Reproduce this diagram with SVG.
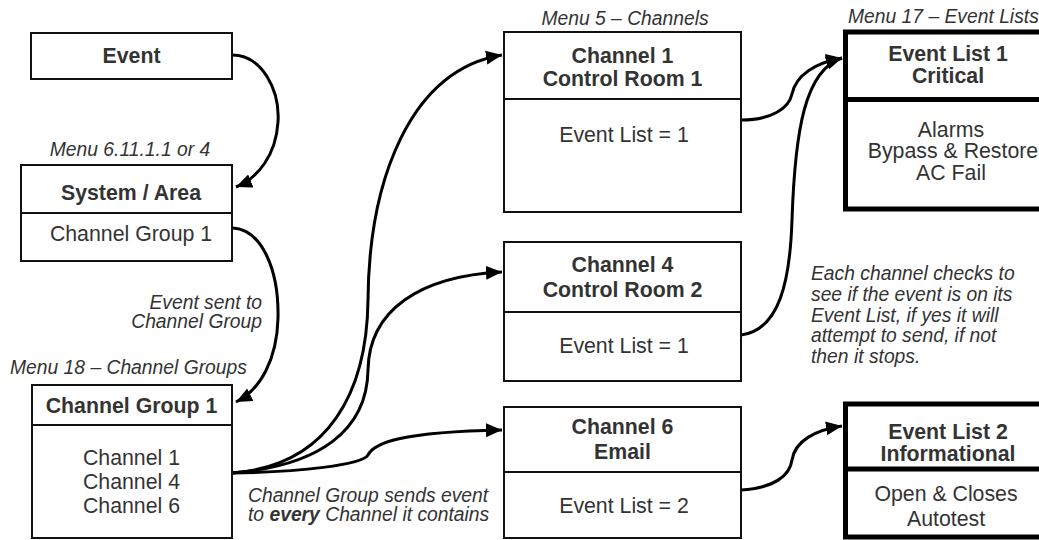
<svg xmlns="http://www.w3.org/2000/svg" width="1039" height="540" viewBox="0 0 1039 540">
<defs>
<style>
.box{fill:#fff;stroke:#111;stroke-width:2}
.thick{fill:#fff;stroke:#000;stroke-width:5}
.div{stroke:#111;stroke-width:2}
.divt{stroke:#000;stroke-width:5}
.b{font-family:"Liberation Sans",Arial,sans-serif;font-weight:bold;font-size:21.3px;fill:#333;text-anchor:middle}
.r{font-family:"Liberation Sans",Arial,sans-serif;font-size:21.3px;fill:#333;text-anchor:middle}
.i{font-family:"Liberation Sans",Arial,sans-serif;font-style:italic;font-size:19.3px;fill:#333}
.c{fill:none;stroke:#000;stroke-width:3;marker-end:url(#ah)}
</style>
<marker id="ah" markerUnits="userSpaceOnUse" markerWidth="18" markerHeight="16" refX="16" refY="7" orient="auto" viewBox="0 0 18 14">
<path d="M0,0 L16,7 L0,14 z" fill="#000"/>
</marker>
</defs>
<rect width="1039" height="540" fill="#fff"/>

<g id="connectors">
<path class="c" d="M232,55 C262,55 280,90 278,122 C276,155 258,178 236,187"/>
<path class="c" d="M233,228 C262,230 279,270 278,318 C277,360 260,390 236,402"/>
<path class="c" d="M232,473 C330,466 367,390 368,300 C369,180 410,70 502,55"/>
<path class="c" d="M232,473 C320,466 367,430 368,370 C369,310 420,276 502,272"/>
<path class="c" d="M232,473 C300,472 362,465 368,455 C374,443 400,432 502,430"/>
<path class="c" d="M741,120 C772,120 789,108 792,94 C796,75 815,63 842,58"/>
<path class="c" d="M741,335 C780,330 790,280 792,220 C795,130 805,70 842,58"/>
<path class="c" d="M741,490 C775,488 790,475 792,460 C795,441 815,430 842,426"/>
</g>

<g id="event">
<rect class="box" x="31" y="33" width="201" height="46"/>
<text class="b" x="131.5" y="63">Event</text>
</g>

<g id="system-area">
<text class="i" x="130" y="156" text-anchor="middle">Menu 6.11.1.1 or 4</text>
<rect class="box" x="21" y="165" width="211" height="96"/>
<line class="div" x1="21" y1="213" x2="232" y2="213"/>
<text class="b" x="131" y="200">System / Area</text>
<text class="r" x="131" y="241">Channel Group 1</text>
</g>

<g id="label-sent">
<text class="i" x="262" y="309" text-anchor="end">Event sent to</text>
<text class="i" x="262" y="328" text-anchor="end">Channel Group</text>
</g>

<g id="channel-group-1">
<text class="i" x="10" y="374">Menu 18 – Channel Groups</text>
<rect class="box" x="32" y="385" width="200" height="153"/>
<line class="div" x1="32" y1="425" x2="232" y2="425"/>
<text class="b" x="131.5" y="413">Channel Group 1</text>
<text class="r" x="131.5" y="465">Channel 1</text>
<text class="r" x="131.5" y="489">Channel 4</text>
<text class="r" x="131.5" y="513">Channel 6</text>
</g>

<g id="label-every">
<text class="i" x="248" y="502">Channel Group sends event</text>
<text class="i" x="248" y="521">to <tspan font-weight="bold">every</tspan> Channel it contains</text>
</g>

<g id="channel-1">
<text class="i" x="625" y="25" text-anchor="middle">Menu 5 – Channels</text>
<rect class="box" x="504" y="32" width="237" height="180"/>
<line class="div" x1="504" y1="99" x2="741" y2="99"/>
<text class="b" x="622.5" y="63">Channel 1</text>
<text class="b" x="622.5" y="86">Control Room 1</text>
<text class="r" x="624" y="142">Event List = 1</text>
</g>

<g id="channel-4">
<rect class="box" x="504" y="242" width="237" height="139"/>
<line class="div" x1="504" y1="312" x2="741" y2="312"/>
<text class="b" x="622.5" y="272">Channel 4</text>
<text class="b" x="622.5" y="297">Control Room 2</text>
<text class="r" x="624" y="353">Event List = 1</text>
</g>

<g id="channel-6">
<rect class="box" x="504" y="407" width="237" height="131"/>
<line class="div" x1="504" y1="472" x2="741" y2="472"/>
<text class="b" x="622.5" y="434">Channel 6</text>
<text class="b" x="622.5" y="459">Email</text>
<text class="r" x="624" y="513">Event List = 2</text>
</g>

<g id="event-list-1">
<text class="i" x="848" y="23">Menu 17 – Event Lists</text>
<rect class="thick" x="845.5" y="32" width="210" height="177"/>
<line class="divt" x1="845.5" y1="99.5" x2="1045" y2="99.5"/>
<text class="b" x="948" y="61">Event List 1</text>
<text class="b" x="948" y="83">Critical</text>
<text class="r" x="951" y="137">Alarms</text>
<text class="r" x="953" y="158">Bypass &amp; Restore</text>
<text class="r" x="951" y="180">AC Fail</text>
</g>

<g id="note">
<text class="i" x="811" y="280">Each channel checks to</text>
<text class="i" x="811" y="301">see if the event is on its</text>
<text class="i" x="811" y="322">Event List, if yes it will</text>
<text class="i" x="811" y="342">attempt to send, if not</text>
<text class="i" x="811" y="363">then it stops.</text>
</g>

<g id="event-list-2">
<rect class="thick" x="845.5" y="404" width="210" height="133"/>
<line class="divt" x1="845.5" y1="469" x2="1045" y2="469"/>
<text class="b" x="948" y="439">Event List 2</text>
<text class="b" x="948" y="461">Informational</text>
<text class="r" x="946" y="501">Open &amp; Closes</text>
<text class="r" x="946" y="526">Autotest</text>
</g>
</svg>
